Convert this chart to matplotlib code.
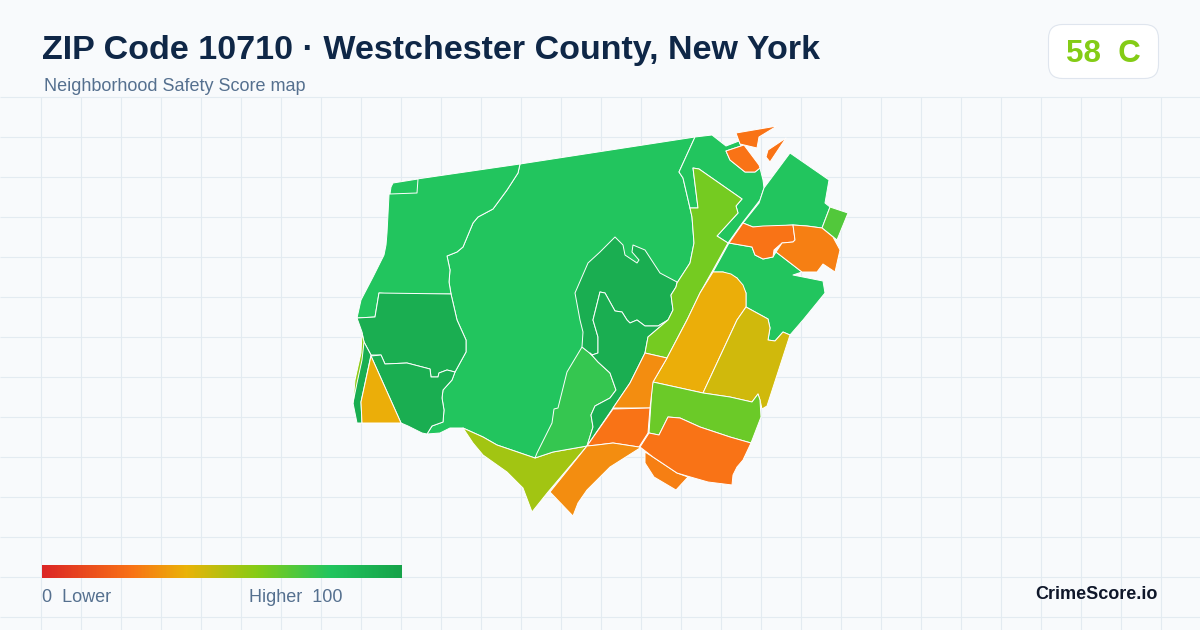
import numpy as np
import matplotlib.pyplot as plt
from matplotlib.colors import LinearSegmentedColormap
from matplotlib.patches import FancyBboxPatch, Polygon

title = "ZIP Code 10710 · Westchester County, New York"
subtitle = "Neighborhood Safety Score map"
overall_score = 58
overall_grade = "C"

# neighborhood outlines (x, y in pixels)
west_top = [(393,183),(417,179),(520,164),(518,173),(507,190),(493,209),(478,217),(473,223),(463,247),(457,252),(447,256),(450,270),(449,282),(451,294),(390,294),(379,293),(375,317),(357,318),(361,300),(373,277),(384,255),(386,245),(387,233),(389,195)]
corner_tile = [(393,183),(418,179),(417,193),(390,194),(391,187)]
central = [(520,164),(695,137),(679,172),(683,178),(690,208),(692,217),(694,243),(690,263),(677,283),(660,300),(600,360),(587,446),(553,452),(535,458),(497,445),(483,437),(463,428),(450,428),(440,433),(427,434),(432,426),(443,422),(444,410),(442,398),(443,390),(452,380),(455,372),(466,352),(466,340),(457,320),(451,294),(449,282),(450,270),(447,256),(457,252),(463,247),(473,223),(478,217),(493,209),(507,190),(518,173)]
west_mid = [(379,293),(451,294),(457,320),(466,340),(466,352),(455,372),(447,370),(439,373),(438,377),(431,377),(430,369),(407,363),(385,364),(381,355),(371,355),(364,342),(362,332),(357,318),(375,317)]
west_low = [(371,356),(381,355),(385,364),(407,363),(430,369),(431,377),(438,377),(439,373),(447,370),(455,372),(452,380),(443,390),(442,398),(444,410),(443,422),(432,426),(427,434),(422,433),(408,426),(401,423)]
triangle = [(371,356),(401,423),(362,423),(361,402)]
west_strip = [(364,342),(371,355),(361,402),(362,423),(357,423),(353,403),(358,367)]
sliver = [(362,333),(364,342),(362,360),(357,383),(353,403),(355,380),(361,353)]
south_lobe = [(463,428),(483,437),(497,445),(535,458),(553,452),(587,446),(548,492),(532,512),(523,488),(507,472),(483,455),(473,443)]
mid_south = [(535,458),(537,453),(552,423),(554,409),(558,408),(567,372),(582,347),(590,353),(598,362),(610,373),(616,390),(610,398),(595,406),(591,415),(593,427),(587,446),(553,452)]
dark_north = [(575,293),(588,263),(600,252),(615,237),(623,245),(625,255),(637,263),(639,260),(632,252),(633,245),(645,250),(660,273),(677,282),(676,287),(671,295),(673,310),(668,320),(658,326),(645,326),(637,320),(630,323),(627,320),(622,312),(615,311),(605,293),(600,292),(593,320),(598,337),(598,353),(592,355),(582,347),(583,332),(580,320)]
dark_south = [(600,292),(605,293),(615,311),(622,312),(627,320),(630,323),(637,320),(645,326),(658,326),(668,320),(648,337),(645,353),(630,383),(613,408),(587,446),(593,427),(591,415),(595,406),(610,398),(616,390),(610,373),(598,362),(590,353),(592,355),(598,353),(598,337),(593,320)]
parkway = [(693,168),(699,169),(742,199),(736,206),(738,213),(717,236),(728,243),(713,270),(700,293),(688,318),(667,358),(645,353),(648,337),(668,320),(673,310),(671,295),(676,287),(677,283),(690,263),(694,243),(692,217),(690,208),(698,208)]
north_top = [(695,137),(712,135),(726,146),(739,141),(741,146),(726,151),(730,160),(745,172),(755,172),(760,168),(763,180),(764,188),(760,200),(743,222),(728,243),(717,236),(738,213),(736,206),(742,199),(699,169),(693,168),(698,208),(690,208),(683,178),(679,172)]
north_orange = [(726,151),(741,146),(744,145),(759,165),(760,168),(755,172),(745,172),(730,160)]
north_spike = [(736,133),(777,126),(759,137),(757,148),(740,144)]
north_shard = [(786,138),(770,162),(766,157),(768,150)]
northeast = [(790,153),(829,180),(825,203),(830,207),(822,228),(807,226),(793,225),(763,227),(753,227),(743,223),(759,203),(764,188)]
east_tab = [(830,207),(848,213),(837,240),(822,228)]
east_orange_a = [(743,223),(753,227),(763,226),(793,225),(795,240),(793,242),(782,243),(774,250),(773,257),(763,259),(755,255),(752,247),(729,243)]
east_orange_b = [(793,225),(807,226),(822,228),(833,237),(840,250),(835,272),(823,264),(817,272),(802,272),(776,252),(782,243),(793,242),(795,240)]
east_green = [(729,243),(752,247),(755,255),(763,259),(773,257),(776,252),(802,272),(793,275),(823,281),(825,293),(803,320),(790,335),(783,332),(775,341),(768,340),(770,328),(768,319),(746,307),(746,293),(737,278),(723,272),(713,272)]
yellow_a = [(713,272),(723,272),(731,274),(737,278),(743,285),(746,293),(746,307),(737,320),(703,393),(653,382),(667,358),(687,320),(700,293)]
yellow_b = [(746,307),(768,319),(770,328),(768,340),(775,341),(783,332),(790,335),(767,406),(762,409),(760,400),(758,394),(752,402),(730,397),(703,393),(737,320)]
lime_band = [(653,382),(703,393),(730,397),(752,402),(758,394),(760,400),(761,417),(751,443),(730,437),(700,427),(680,418),(668,417),(659,435),(649,433),(652,387)]
orange_band = [(668,417),(680,418),(700,427),(730,437),(751,443),(743,460),(737,467),(733,475),(732,485),(708,482),(687,476),(677,473),(653,457),(640,447),(649,433),(659,435)]
orange_tail = [(645,452),(653,457),(677,473),(688,477),(676,490),(654,477),(645,463)]
center_orange = [(587,446),(613,409),(650,408),(648,433),(639,447),(613,443),(597,445)]
center_amber = [(613,408),(630,383),(645,353),(667,358),(653,382),(650,408)]
south_amber = [(587,446),(597,445),(613,443),(639,447),(640,448),(610,467),(587,490),(578,503),(573,516),(572,515),(550,492)]

neighborhoods = [central, west_top, corner_tile, west_mid, west_low, west_strip, sliver, triangle,
                 south_lobe, mid_south, dark_north, dark_south, north_top, parkway, north_orange,
                 north_spike, north_shard, northeast, east_tab, east_green, east_orange_a, east_orange_b,
                 yellow_a, yellow_b, lime_band, orange_tail, orange_band, center_amber, center_orange, south_amber]
scores = [80, 80, 80, 93, 93, 93, 58, 39,
          54, 76, 93, 93, 80, 63, 25,
          25, 25, 80, 70, 80, 25, 28,
          39, 45, 65, 28, 25, 31, 25, 31]

legend_stops = [0, 0.25, 0.4, 0.6, 0.8, 1]
legend_colors = ["#dc2626", "#f97316", "#eab308", "#84cc16", "#22c55e", "#16a34a"]
cmap = LinearSegmentedColormap.from_list("safety", list(zip(legend_stops, legend_colors)))

plt.rcParams["font.family"] = ["Liberation Sans", "DejaVu Sans"]
fig = plt.figure(figsize=(12, 6.3), dpi=100, facecolor="#f8fafc")
ax = fig.add_axes([0, 0, 1, 1])
ax.set_xlim(0, 1200)
ax.set_ylim(630, 0)
ax.axis("off")

# background grid, starts below the header
ax.vlines(np.arange(40.5, 1200, 40), 96.5, 630, color="#e3ebf1", lw=0.8, zorder=0)
ax.hlines(np.arange(96.5, 630, 40), 0, 1200, color="#e3ebf1", lw=0.8, zorder=0)

for shape, score in zip(neighborhoods, scores):
    ax.add_patch(Polygon(shape, closed=True, facecolor=cmap(score / 100), edgecolor="white", lw=0.7, joinstyle="round", zorder=2))

ax.text(42, 59, title, fontsize=24.45, fontweight="bold", color="#0f2747", va="baseline", ha="left")
ax.text(44, 91, subtitle, fontsize=13, color="#55708f", va="baseline", ha="left")

ax.add_patch(FancyBboxPatch((1048.5, 24.5), 110, 54, boxstyle="round,pad=0,rounding_size=14", facecolor="white", edgecolor="#dfe5ee", lw=0.8, zorder=3))
ax.text(1103, 62, str(overall_score) + "  " + overall_grade, fontsize=22.5, fontweight="bold", color=cmap(overall_score / 100 + 0.02), va="baseline", ha="center", zorder=4)

gradient = np.linspace(0, 1, 360).reshape(1, -1)
ax.imshow(gradient, cmap=cmap, extent=(42, 402, 578, 565), aspect="auto", zorder=3, vmin=0, vmax=1)
ax.set_xlim(0, 1200)
ax.set_ylim(630, 0)
ax.text(42, 602, "0  Lower", fontsize=13, color="#55708f", va="baseline", ha="left")
ax.text(249, 602, "Higher  100", fontsize=13, color="#55708f", va="baseline", ha="left")
ax.text(1158, 599, "CrimeScore.io", fontsize=13, fontweight="bold", color="#0f172a", va="baseline", ha="right")

fig.savefig("out.png", dpi=100, facecolor=fig.get_facecolor())
